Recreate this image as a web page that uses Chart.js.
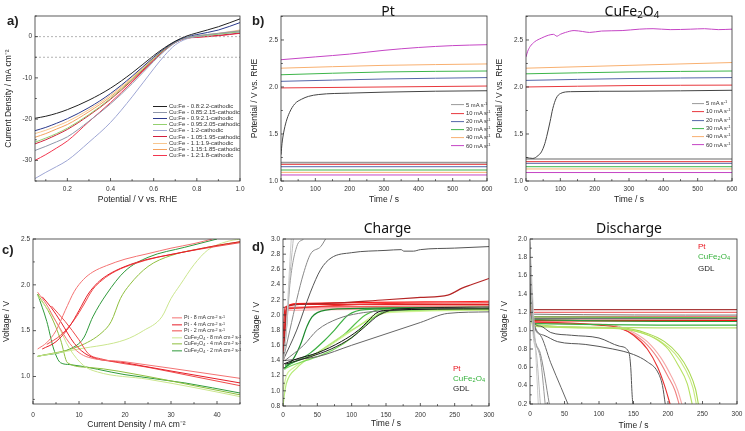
<!DOCTYPE html>
<html>
<head>
<meta charset="utf-8">
<script src="https://cdn.jsdelivr.net/npm/chart.js@4.4.0/dist/chart.umd.min.js"></script>
<style>
body{margin:0;background:#fff;width:745px;height:431px;position:relative;overflow:hidden;font-family:"Liberation Sans",Arial,sans-serif}
canvas{position:absolute}
.t{position:absolute;white-space:nowrap;color:#222;line-height:1;transform:translateY(-50%)}
.c{transform:translate(-50%,-50%)}
.lbl{font-weight:bold;font-size:13px}
.ttl{font-family:"Noto Sans",sans-serif;font-size:14px;color:#111}
.sw{display:inline-block;height:0;border-top:1.2px solid;vertical-align:middle;margin-right:2px}
sub,sup{font-size:70%;line-height:0}
sub{vertical-align:-0.25em}
sup{vertical-align:0.45em}
</style>
</head>
<body>
<script>
// ---- a) LSV curves, potential (V vs RHE) / current density (mA cm-2)
const lsvPotential = [0.05, 0.1, 0.15, 0.2, 0.3, 0.4, 0.5, 0.6, 0.65, 0.7, 0.75, 0.8, 0.9, 1.0];
const lsv_08 = [-19.8, -19.3, -18.6, -17.7, -15.4, -12.5, -8.8, -4.6, -2.7, -1.1, 0.1, 0.9, 2.4, 4.3];
const lsv_085 = [-27.6, -26.6, -25.5, -24.3, -20.5, -16.3, -11.4, -6.0, -3.5, -1.5, -0.3, 0.2, 0.8, 1.4];
const lsv_09 = [-22.8, -22.0, -21.0, -19.9, -17.2, -13.8, -9.6, -5.0, -2.9, -1.2, -0.1, 0.5, 1.6, 3.4];
const lsv_095 = [-25.6, -24.6, -23.5, -22.2, -18.9, -15.0, -10.4, -5.4, -3.1, -1.3, -0.3, 0.1, 0.6, 1.2];
const lsv_10 = [-34.4, -32.9, -31.5, -30.0, -25.6, -20.8, -14.6, -7.8, -4.6, -2.0, -0.6, 0.0, 0.6, 1.1];
const lsv_105 = [-26.0, -25.0, -23.8, -22.5, -19.1, -15.2, -10.6, -5.6, -3.2, -1.4, -0.4, -0.1, 0.3, 0.9];
const lsv_11 = [-23.5, -22.7, -21.7, -20.6, -17.7, -14.2, -9.9, -5.2, -3.0, -1.3, -0.3, 0.2, 0.8, 1.6];
const lsv_115 = [-24.4, -23.5, -22.4, -21.3, -18.2, -14.6, -10.2, -5.3, -3.1, -1.3, -0.3, 0.1, 0.7, 1.4];
const lsv_12 = [-30.0, -28.6, -27.0, -25.3, -20.6, -16.0, -11.0, -5.7, -3.3, -1.4, -0.4, -0.2, 0.2, 0.8];
const lsvLabels = ['Cu:Fe - 0.8:2.2-cathodic', 'Cu:Fe - 0.85:2.15-cathodic', 'Cu:Fe - 0.9:2.1-cathodic',
  'Cu:Fe - 0.95:2.05-cathodic', 'Cu:Fe - 1:2-cathodic', 'Cu:Fe - 1.05:1.95-cathodic',
  'Cu:Fe - 1.1:1.9-cathodic', 'Cu:Fe - 1.15:1.85-cathodic', 'Cu:Fe - 1.2:1.8-cathodic'];
const refLines = [0, -5];
const aXTicks = [0.2, 0.4, 0.6, 0.8, 1.0];
const aYTicks = [-30, -20, -10, 0];

// ---- b) chronopotentiometry [time s, potential V]
const rateLabels = ['5 mA s<sup>-1</sup>', '10 mA s<sup>-1</sup>', '20 mA s<sup>-1</sup>', '30 mA s<sup>-1</sup>', '40 mA s<sup>-1</sup>', '60 mA s<sup>-1</sup>'];
const pt5 = [[0,1.28],[3,1.4],[8,1.52],[15,1.63],[25,1.73],[40,1.82],[60,1.87],[80,1.9],[110,1.92],[200,1.935],[300,1.945],[450,1.955],[600,1.96]];
const pt10 = [[0,1.99],[300,2.0],[600,2.01]];
const pt20 = [[0,2.06],[300,2.085],[600,2.1]];
const pt30 = [[0,2.13],[300,2.16],[600,2.17]];
const pt40 = [[0,2.2],[300,2.23],[600,2.245]];
const pt60 = [[0,2.29],[100,2.32],[200,2.35],[300,2.39],[400,2.42],[500,2.44],[600,2.45]];
const ptRest = [1.195, 1.177, 1.152, 1.117, 1.092, 1.064];
const cu5 = [[0,1.25],[20,1.24],[35,1.27],[45,1.31],[55,1.4],[62,1.5],[70,1.63],[78,1.77],[88,1.88],[100,1.93],[130,1.95],[300,1.955],[600,1.965]];
const cu10 = [[0,2.0],[300,2.015],[600,2.02]];
const cu20 = [[0,2.07],[300,2.09],[600,2.1]];
const cu30 = [[0,2.14],[300,2.16],[600,2.17]];
const cu40 = [[0,2.2],[300,2.23],[600,2.26]];
const cu60 = [[0,2.32],[5,2.38],[12,2.43],[25,2.48],[45,2.52],[65,2.55],[80,2.56],[90,2.54],[100,2.56],[115,2.58],[140,2.6],[165,2.59],[185,2.58],[220,2.595],[280,2.6],[330,2.615],[370,2.62],[420,2.61],[480,2.615],[520,2.62],[560,2.61],[600,2.615]];
const cuRest = [1.234, 1.206, 1.188, 1.152, 1.128, 1.09];
const bXTicks = [0, 100, 200, 300, 400, 500, 600];
const bYTicks = [1.0, 1.5, 2.0, 2.5];

// ---- c) polarisation [current density mA cm-2, voltage V]
const cLabels = ['Pt - 8 mA cm<sup>-2</sup> s<sup>-1</sup>', 'Pt - 4 mA cm<sup>-2</sup> s<sup>-1</sup>', 'Pt - 2 mA cm<sup>-2</sup> s<sup>-1</sup>',
  'CuFe<sub>2</sub>O<sub>4</sub> - 8 mA cm<sup>-2</sup> s<sup>-1</sup>', 'CuFe<sub>2</sub>O<sub>4</sub> - 4 mA cm<sup>-2</sup> s<sup>-1</sup>', 'CuFe<sub>2</sub>O<sub>4</sub> - 2 mA cm<sup>-2</sup> s<sup>-1</sup>'];
const ptUp8 = [[1,1.3],[3,1.37],[5,1.5],[7,1.72],[9,1.93],[11,2.06],[13,2.14],[16,2.21],[20,2.28],[25,2.34],[30,2.4],[35,2.45],[39,2.5]];
const ptUp4 = [[2,1.3],[5,1.38],[8,1.55],[10,1.72],[12,1.9],[14,2.02],[16,2.1],[20,2.2],[25,2.28],[30,2.33],[35,2.38],[40,2.43],[45,2.47]];
const ptUp2 = [[3,1.35],[6,1.45],[9,1.62],[11,1.78],[13,1.95],[15,2.05],[18,2.15],[22,2.23],[27,2.3],[33,2.36],[40,2.42],[45,2.46]];
const ptDn8 = [[1,1.92],[3,1.78],[5,1.6],[8,1.36],[10,1.26],[12,1.21],[20,1.16],[30,1.09],[45,0.98]];
const ptDn4 = [[2,1.87],[4,1.75],[6,1.6],[9,1.36],[12,1.23],[20,1.15],[30,1.06],[45,0.93]];
const ptDn2 = [[4,1.77],[7,1.6],[10,1.4],[12,1.25],[15,1.19],[25,1.1],[35,1.0],[45,0.9]];
const cuUp8 = [[1,1.22],[10,1.3],[20,1.4],[24,1.5],[28,1.65],[30,1.85],[32,2.0],[35,2.22],[38,2.38],[42,2.47],[45,2.5]];
const cuUp4 = [[1,1.22],[10,1.33],[15,1.48],[17,1.6],[19,1.85],[21,2.0],[25,2.2],[30,2.32],[38,2.41],[45,2.47]];
const cuUp2 = [[1,1.22],[8,1.3],[11,1.42],[13,1.65],[16,1.9],[20,2.15],[25,2.3],[33,2.41],[40,2.5]];
const cuDn8 = [[1,1.88],[5,1.6],[8,1.3],[11,1.12],[14,1.05],[25,0.97],[35,0.88],[45,0.78]];
const cuDn4 = [[1,1.9],[4,1.65],[6,1.4],[7.5,1.15],[12,1.1],[25,1.0],[35,0.9],[45,0.8]];
const cuDn2 = [[1,1.9],[3,1.6],[4.5,1.3],[6,1.15],[8,1.13],[20,1.02],[33,0.93],[45,0.82]];
const cXTicks = [0, 10, 20, 30, 40];
const cYTicks = [1.0, 1.5, 2.0, 2.5];

// ---- d) charge [time s, voltage V]
const chPt1 = [[0,1.3],[2,1.6],[4,2.0],[8,2.12],[50,2.15],[150,2.2],[200,2.23],[240,2.26],[250,2.3],[260,2.35],[275,2.4],[300,2.48]];
const chPt2 = [[0,1.35],[3,1.8],[5,2.1],[20,2.15],[300,2.18]];
const chPt3 = [[0,1.4],[3,1.9],[5,2.08],[300,2.16]];
const chPt4 = [[0,1.3],[4,1.9],[7,2.1],[300,2.12]];
const chPt5 = [[0,1.5],[4,2.0],[8,2.09],[300,2.1]];
const chPt6 = [[0,1.6],[3,2.1],[20,2.14],[300,2.14]];
const chPt7 = [[0,1.7],[4,2.06],[300,2.08]];
const chCu1 = [[2,1.3],[5,1.32],[15,1.42],[25,1.6],[35,1.85],[42,1.97],[50,2.03],[80,2.08],[300,2.1]];
const chCu2 = [[2,1.3],[5,1.32],[40,1.5],[60,1.66],[75,1.8],[95,2.0],[120,2.07],[300,2.1]];
const chCu3 = [[2,1.28],[5,1.3],[50,1.45],[75,1.55],[100,1.7],[130,1.95],[150,2.05],[300,2.08]];
const chCu4 = [[0,0.8],[2,0.95],[5,1.1],[20,1.3],[50,1.5],[100,1.8],[140,2.0],[160,2.05],[300,2.07]];
const chCu5 = [[0,1.0],[5,1.2],[15,1.3],[60,1.55],[110,1.85],[140,2.02],[300,2.06]];
const chCu6 = [[3,1.33],[10,1.36],[50,1.5],[90,1.75],[120,2.0],[150,2.08],[300,2.09]];
const chG1 = [[0,1.3],[4,1.7],[7,2.2],[10,2.7],[12,3.0]];
const chG2 = [[0,1.35],[5,1.8],[10,2.5],[15,3.0]];
const chG3 = [[0,1.4],[5,1.8],[10,2.4],[20,2.9],[30,3.0]];
const chG4 = [[0,1.4],[10,1.8],[20,2.2],[30,2.55],[40,2.8],[55,2.9],[62,3.0]];
const chG5 = [[0,1.4],[20,1.8],[40,2.3],[55,2.6],[70,2.75],[100,2.82],[150,2.85],[172,2.86],[176,2.84],[190,2.84],[200,2.86],[250,2.88],[300,2.9]];
const chG6 = [[0,1.35],[20,1.42],[50,1.5],[85,1.65],[110,1.8],[125,1.93],[135,2.02],[150,2.06],[300,2.08]];
const chG7 = [[3,1.4],[30,1.6],[50,1.8],[80,1.95],[110,2.02],[140,2.05],[300,2.1]];
const chG8 = [[3,1.35],[40,1.45],[70,1.55],[100,1.7],[120,1.85],[140,2.0],[170,2.08],[300,2.1]];
const chG9 = [[3,1.4],[50,1.45],[100,1.6],[150,1.75],[200,1.9],[240,2.02],[300,2.04]];
const dChYTicks = [0.8, 1.0, 1.2, 1.4, 1.6, 1.8, 2.0, 2.2, 2.4, 2.6, 2.8, 3.0];

// ---- d) discharge [time s, voltage V]
const diPt1 = [[0,1.55],[2,1.3],[3,1.13],[5,1.11],[300,1.11]];
const diPt2 = [[0,1.6],[3,1.25],[5,1.23],[300,1.23]];
const diPt3 = [[0,1.5],[3,1.2],[300,1.2]];
const diPt4 = [[0,1.5],[3,1.15],[300,1.15]];
const diPt5 = [[0,1.45],[3,1.1],[20,1.09],[100,1.06],[130,1.03],[150,0.95],[170,0.8],[185,0.6],[195,0.4],[203,0.2]];
const diPt6 = [[0,1.4],[3,1.1],[100,1.07],[140,1.0],[165,0.88],[185,0.7],[200,0.5],[210,0.35],[216,0.2]];
const diPt7 = [[0,1.4],[3,1.09],[110,1.07],[145,1.0],[170,0.88],[190,0.7],[205,0.5],[214,0.35],[220,0.2]];
const diCu1 = [[0,1.75],[3,1.12],[300,1.1]];
const diCu2 = [[0,1.9],[3,1.08],[300,1.06]];
const diCu3 = [[0,1.7],[3,1.05],[300,1.03]];
const diCu4 = [[0,1.8],[4,1.15],[300,1.14]];
const diCu5 = [[0,1.6],[4,1.05],[100,1.03],[150,1.0],[180,0.92],[200,0.8],[215,0.62],[228,0.42],[235,0.2]];
const diCu6 = [[0,1.6],[4,1.06],[120,1.03],[160,0.98],[190,0.88],[210,0.75],[225,0.58],[236,0.38],[241,0.2]];
const diCu7 = [[0,1.6],[4,1.07],[130,1.03],[170,0.97],[195,0.88],[215,0.74],[230,0.56],[240,0.36],[244,0.2]];
const diG1 = [[0,1.97],[3,1.5],[8,0.8],[12,0.2]];
const diG2 = [[0,1.95],[3,1.15],[10,0.7],[15,0.2]];
const diG3 = [[0,1.9],[4,1.1],[15,0.7],[22,0.2]];
const diG4 = [[0,1.9],[4,1.1],[15,0.75],[28,0.2]];
const diG5 = [[0,1.85],[5,1.1],[15,0.95],[30,0.65],[45,0.38],[55,0.2]];
const diG6 = [[0,1.8],[5,1.1],[15,1.05],[30,0.98],[60,0.95],[100,0.92],[130,0.83],[143,0.77],[146,0.6],[148,0.3],[149,0.2]];
const diG7 = [[0,1.8],[5,1.1],[20,0.95],[40,0.88],[80,0.85],[120,0.8],[150,0.74],[170,0.66],[185,0.55],[192,0.4],[196,0.2]];
const diG8 = [[0,1.6],[3,1.13],[300,1.13]];
const diG9 = [[0,1.5],[3,1.18],[300,1.17]];
const dXTicks = [0, 50, 100, 150, 200, 250, 300];
const dDiYTicks = [0.2, 0.4, 0.6, 0.8, 1.0, 1.2, 1.4, 1.6, 1.8, 2.0];

const FONT = '"Liberation Sans", Arial, sans-serif';

function pts(arr) { return arr.map(p => ({x: p[0], y: p[1]})); }
function lsv(ys) { return lsvPotential.map((x, i) => ({x: x, y: ys[i]})); }
function flat(y, x0, x1) { return [{x: x0, y: y}, {x: x1, y: y}]; }
function line(data, color, w, dash) {
  return {data: data, borderColor: color, borderWidth: w || 1, borderDash: dash || [], pointRadius: 0, fill: false, cubicInterpolationMode: 'monotone'};
}

// box border and inward ticks, like the original Origin plots
const frame = {
  id: 'frame',
  afterDatasetsDraw(c) {
    const ctx = c.ctx, a = c.chartArea;
    ctx.save();
    ctx.strokeStyle = '#333';
    ctx.lineWidth = 0.8;
    ctx.strokeRect(a.left, a.top, a.right - a.left, a.bottom - a.top);
    ['x', 'y'].forEach(k => {
      const s = c.scales[k];
      const v = s.ticks.map(t => t.value);
      const step = v[1] - v[0];
      const marks = v.map(m => [m, 3]);
      for (let m = v[0] - step / 2; m <= s.max + 1e-9; m += step) {
        if (m >= s.min - 1e-9) marks.push([m, 1.8]);
      }
      ctx.beginPath();
      marks.forEach(([m, len]) => {
        const p = s.getPixelForValue(m);
        if (k === 'x') { ctx.moveTo(p, a.bottom); ctx.lineTo(p, a.bottom - len); }
        else { ctx.moveTo(a.left, p); ctx.lineTo(a.left + len, p); }
      });
      ctx.stroke();
    });
    ctx.restore();
  }
};

function makePanel(p) {
  const [L, T, W, H] = p.box;
  const cv = document.createElement('canvas');
  cv.width = W; cv.height = H;
  cv.style.left = L + 'px'; cv.style.top = T + 'px';
  document.body.appendChild(cv);
  const tsize = 8.5, lh = tsize * 1.2;
  const padL = p.yTitleX - L - lh / 2;
  const padB = T + H - p.xTitleY - lh / 2;
  const padT = p.plot[1] - T;
  const padR = L + W - p.plot[2];
  const yW = p.plot[0] - L - padL;
  const xH = T + H - padB - p.plot[3];
  const axis = (o, horiz) => ({
    type: 'linear', min: o.min, max: o.max,
    grid: {display: false, drawTicks: false}, border: {display: false},
    ticks: {padding: o.pad, autoSkip: false, maxRotation: 0, color: '#333', font: {size: 6.5, family: FONT},
      callback: v => v.toFixed(o.dec)},
    afterBuildTicks: s => { s.ticks = o.ticks.map(v => ({value: v})); },
    title: {display: true, text: o.title, color: '#222', padding: 0, font: {size: tsize, family: FONT}},
    afterFit: s => {
      if (horiz) { s.height = xH; s.paddingLeft = 0; s.paddingRight = 0; }
      else { s.width = yW; s.paddingTop = 0; s.paddingBottom = 0; }
    }
  });
  return new Chart(cv, {
    type: 'line',
    data: {datasets: p.datasets},
    options: {
      responsive: false, animation: false,
      layout: {padding: {left: padL, right: padR, top: padT, bottom: padB}},
      plugins: {legend: {display: false}, tooltip: {enabled: false}},
      scales: {x: axis(p.x, true), y: axis(p.y, false)}
    },
    plugins: [frame]
  });
}

function put(html, x, y, cls, css) {
  const d = document.createElement('div');
  d.className = 't ' + (cls || '');
  d.innerHTML = html;
  d.style.left = x + 'px';
  d.style.top = y + 'px';
  if (css) d.style.cssText += css;
  document.body.appendChild(d);
}
function legend(x, y0, dy, lw, size, labels, colors) {
  labels.forEach((t, i) => {
    put('<span class="sw" style="width:' + lw + 'px;border-color:' + colors[i] + '"></span>' + t, x, y0 + i * dy, '', 'font-size:' + size + 'px;color:#333');
  });
}

// ---------- panel a
const lsvColors = ['#222222', '#8e97aa', '#2b3a8c', '#93d06e', '#9ea6d4', '#d11f3d', '#f8c68e', '#f4a35e', '#f2364f'];
const lsvSeries = [lsv_08, lsv_085, lsv_09, lsv_095, lsv_10, lsv_105, lsv_11, lsv_115, lsv_12];
makePanel({
  box: [0, 0, 248, 215], plot: [35, 16, 240, 181], yTitleX: 8.5, xTitleY: 200,
  x: {min: 0.05, max: 1.0, ticks: aXTicks, dec: 1, pad: 4, title: 'Potential / V vs. RHE'},
  y: {min: -35, max: 5, ticks: aYTicks, dec: 0, pad: 3, title: 'Current Density / mA cm⁻²'},
  datasets: refLines.map(v => line(flat(v, 0.05, 1.0), '#a0a0a0', 0.8, [2, 2]))
    .concat(lsvSeries.map((s, i) => line(lsv(s), lsvColors[i], 1)))
});
legend(153, 106, 6.1, 14, 6, lsvLabels, lsvColors);

// ---------- panel b
const rateColors = ['#9a9a9a', '#e8383d', '#5566a8', '#3db54a', '#f8b070', '#c545c5'];
const chargeColors = ['#444444', '#e8383d', '#5566a8', '#3db54a', '#f8b070', '#c545c5'];
makePanel({
  box: [248, 0, 247, 215], plot: [281, 16, 487, 181], yTitleX: 255, xTitleY: 200,
  x: {min: 0, max: 600, ticks: bXTicks, dec: 0, pad: 4, title: 'Time / s'},
  y: {min: 1.0, max: 2.755, ticks: bYTicks, dec: 1, pad: 3, title: 'Potential / V vs. RHE'},
  datasets: [pt5, pt10, pt20, pt30, pt40, pt60].map((s, i) => line(pts(s), chargeColors[i], 1))
    .concat(ptRest.map((v, i) => line(flat(v, 0, 600), rateColors[i], i === 0 ? 1.6 : 1)))
});
legend(451, 105.5, 8.2, 13, 5.8, rateLabels, rateColors);

makePanel({
  box: [495, 0, 250, 215], plot: [526, 16, 732, 181], yTitleX: 500, xTitleY: 200,
  x: {min: 0, max: 600, ticks: bXTicks, dec: 0, pad: 4, title: 'Time / s'},
  y: {min: 1.0, max: 2.755, ticks: bYTicks, dec: 1, pad: 3, title: 'Potential / V vs. RHE'},
  datasets: [cu5, cu10, cu20, cu30, cu40, cu60].map((s, i) => line(pts(s), chargeColors[i], 1))
    .concat(cuRest.map((v, i) => line(flat(v, 0, 600), rateColors[i], i === 0 ? 1.6 : 1)))
});
legend(692, 104, 8.3, 12, 5.8, rateLabels, rateColors);

// ---------- panel c
const cColors = ['#f47373', '#e61e28', '#f04a4a', '#cbe68e', '#8fbf3e', '#2f9a3b'];
makePanel({
  box: [0, 215, 248, 216], plot: [33, 239, 240, 404], yTitleX: 6.5, xTitleY: 425,
  x: {min: 0, max: 45, ticks: cXTicks, dec: 0, pad: 7, title: 'Current Density / mA cm⁻²'},
  y: {min: 0.7, max: 2.5, ticks: cYTicks, dec: 1, pad: 3, title: 'Voltage / V'},
  datasets: [[ptUp8, ptDn8], [ptUp4, ptDn4], [ptUp2, ptDn2], [cuUp8, cuDn8], [cuUp4, cuDn4], [cuUp2, cuDn2]]
    .flatMap((pair, i) => pair.map(s => line(pts(s), cColors[i], 1)))
});
legend(172, 318, 6.6, 10, 5.3, cLabels, cColors);

// ---------- panel d charge
const chPt = [chPt1, chPt2, chPt3, chPt4, chPt5, chPt6, chPt7];
const chPtCol = ['#b52525', '#ff1a1a', '#ee3030', '#f06060', '#f49090', '#e02020', '#f8b0b0'];
const chCu = [chCu1, chCu2, chCu3, chCu4, chCu5, chCu6];
const chCuCol = ['#1e8a2e', '#3cb043', '#7ad85a', '#b6ec7a', '#d4f29a', '#55c048'];
const chG = [chG1, chG2, chG3, chG4, chG5, chG6, chG7, chG8, chG9];
const chGCol = ['#cccccc', '#bbbbbb', '#999999', '#888888', '#555555', '#111111', '#777777', '#222222', '#666666'];
makePanel({
  box: [248, 215, 247, 216], plot: [283, 239, 489, 406], yTitleX: 257, xTitleY: 424,
  x: {min: 0, max: 300, ticks: dXTicks, dec: 0, pad: 5, title: 'Time / s'},
  y: {min: 0.8, max: 3.0, ticks: dChYTicks, dec: 1, pad: 3, title: 'Voltage / V'},
  datasets: chG.map((s, i) => line(pts(s), chGCol[i], 1))
    .concat(chCu.map((s, i) => line(pts(s), chCuCol[i], 1.2)))
    .concat(chPt.map((s, i) => line(pts(s), chPtCol[i], 1.2)))
});

// ---------- panel d discharge
const diPt = [diPt1, diPt2, diPt3, diPt4, diPt5, diPt6, diPt7];
const diPtCol = ['#ff1010', '#a83a3a', '#f07070', '#e85050', '#e83030', '#f08080', '#f6a8a8'];
const diCu = [diCu1, diCu2, diCu3, diCu4, diCu5, diCu6, diCu7];
const diCuCol = ['#2e9a3a', '#3cb043', '#b8e070', '#5cc050', '#b5e060', '#c8ea80', '#a8d850'];
const diG = [diG1, diG2, diG3, diG4, diG5, diG6, diG7, diG8, diG9];
const diGCol = ['#cccccc', '#bbbbbb', '#999999', '#888888', '#666666', '#555555', '#555555', '#444444', '#777777'];
makePanel({
  box: [495, 215, 250, 216], plot: [530, 239, 737, 404], yTitleX: 504.5, xTitleY: 426,
  x: {min: 0, max: 300, ticks: dXTicks, dec: 0, pad: 6, title: 'Time / s'},
  y: {min: 0.2, max: 2.0, ticks: dDiYTicks, dec: 1, pad: 3, title: 'Voltage / V'},
  datasets: diG.map((s, i) => line(pts(s), diGCol[i], 1))
    .concat(diCu.map((s, i) => line(pts(s), diCuCol[i], 1.1)))
    .concat(diPt.map((s, i) => line(pts(s), diPtCol[i], i === 0 ? 1.8 : 1.1)))
});

// ---------- titles, letters and text legends
put('a)', 7, 20, 'lbl');
put('b)', 252, 20, 'lbl');
put('c)', 2, 249, 'lbl');
put('d)', 252, 246, 'lbl');
put('Pt', 388, 10.5, 'ttl c');
put('CuFe<sub>2</sub>O<sub>4</sub>', 632, 10.5, 'ttl c');
put('Charge', 387.5, 228, 'ttl c');
put('Discharge', 629, 228, 'ttl c');
put('Pt', 453, 368.5, '', 'font-size:8px;color:#e8141e');
put('CuFe<sub>2</sub>O<sub>4</sub>', 453, 379, '', 'font-size:8px;color:#36b23c');
put('GDL', 453, 389, '', 'font-size:8px;color:#222');
put('Pt', 698, 246.7, '', 'font-size:8px;color:#e8141e');
put('CuFe<sub>2</sub>O<sub>4</sub>', 698, 257, '', 'font-size:8px;color:#36b23c');
put('GDL', 698, 268.5, '', 'font-size:8px;color:#222');
</script>
</body>
</html>
